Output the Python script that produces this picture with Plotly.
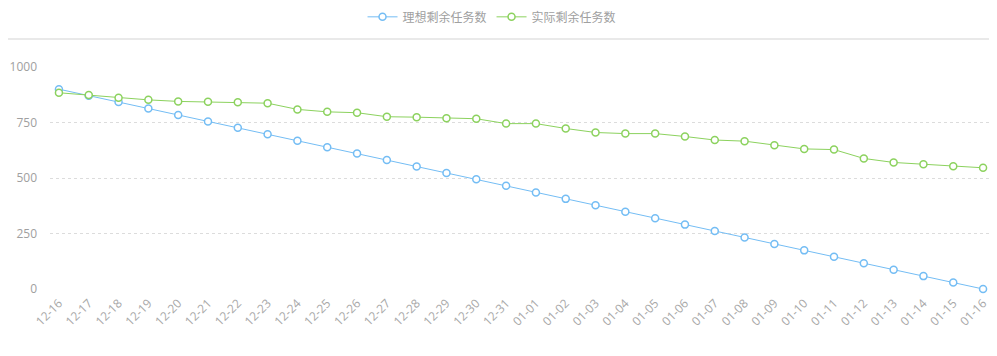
import plotly.graph_objects as go

dates = ["12-16", "12-17", "12-18", "12-19", "12-20", "12-21", "12-22", "12-23",
         "12-24", "12-25", "12-26", "12-27", "12-28", "12-29", "12-30", "12-31",
         "01-01", "01-02", "01-03", "01-04", "01-05", "01-06", "01-07", "01-08",
         "01-09", "01-10", "01-11", "01-12", "01-13", "01-14", "01-15", "01-16"]

ideal = [900, 871, 842, 813, 784, 755, 726, 697, 668, 639, 610, 581, 552, 523, 494, 465,
         435, 406, 377, 348, 319, 290, 261, 232, 203, 174, 145, 116, 87, 58, 29, 0]

actual = [884, 874, 861, 852, 845, 843, 841, 837, 809, 798, 794, 776, 774, 769, 767, 745,
          745, 723, 705, 700, 700, 687, 671, 666, 648, 631, 628, 588, 570, 562, 553, 546]

y_ticks = [0, 250, 500, 750, 1000]

blue = "#74bdf4"
green = "#8cd25e"

fig = go.Figure()
fig.add_trace(go.Scatter(
    x=list(range(len(dates))), y=ideal, name="理想剩余任务数", mode="lines+markers",
    line=dict(color=blue, width=1),
    marker=dict(symbol="circle", size=7, color="white", line=dict(color=blue, width=1.5)),
    cliponaxis=False,
))
fig.add_trace(go.Scatter(
    x=list(range(len(dates))), y=actual, name="实际剩余任务数", mode="lines+markers",
    line=dict(color=green, width=1),
    marker=dict(symbol="circle", size=7, color="white", line=dict(color=green, width=1.5)),
    cliponaxis=False,
))

fig.update_layout(
    width=989, height=340,
    margin=dict(l=42, r=5, t=59, b=59, autoexpand=False),
    plot_bgcolor="white", paper_bgcolor="white",
    font=dict(family="Noto Sans CJK SC, sans-serif", size=12, color="#a0a0a0"),
    showlegend=True,
    legend=dict(orientation="h", x=0.4894, xref="container", xanchor="center",
                y=0.974, yref="container", yanchor="middle",
                font=dict(size=12, color="#a0a0a0"),
                itemwidth=30, tracegroupgap=0),
    xaxis=dict(
        range=[-0.3, 31.3], tickmode="array", tickvals=list(range(len(dates))),
        ticktext=dates, tickangle=-45, showgrid=False, zeroline=False, showline=False,
        ticks="", automargin=False, ticklabelstandoff=4,
        tickfont=dict(size=12, color="#a8a8a8", family="Open Sans, sans-serif"),
    ),
    yaxis=dict(
        range=[0, 1000], tickmode="array", tickvals=y_ticks,
        showgrid=True, gridcolor="#dcdcdc", griddash="dot", gridwidth=1,
        zeroline=False, showline=False, ticks="", ticklabelstandoff=12, automargin=False,
        tickfont=dict(size=12, color="#a0a0a0", family="Open Sans, sans-serif"),
    ),
    shapes=[
        dict(type="line", xref="paper", yref="paper", x0=-0.045, x1=0.998, y0=1.126, y1=1.126,
             line=dict(color="#e2e2e2", width=1.5)),
        dict(type="rect", xref="paper", yref="paper", x0=0.9985, x1=1.003, y0=0.108, y1=1.27,
             line=dict(width=0), fillcolor="#999999", layer="above"),
    ],
)

fig.write_html("out.html")
